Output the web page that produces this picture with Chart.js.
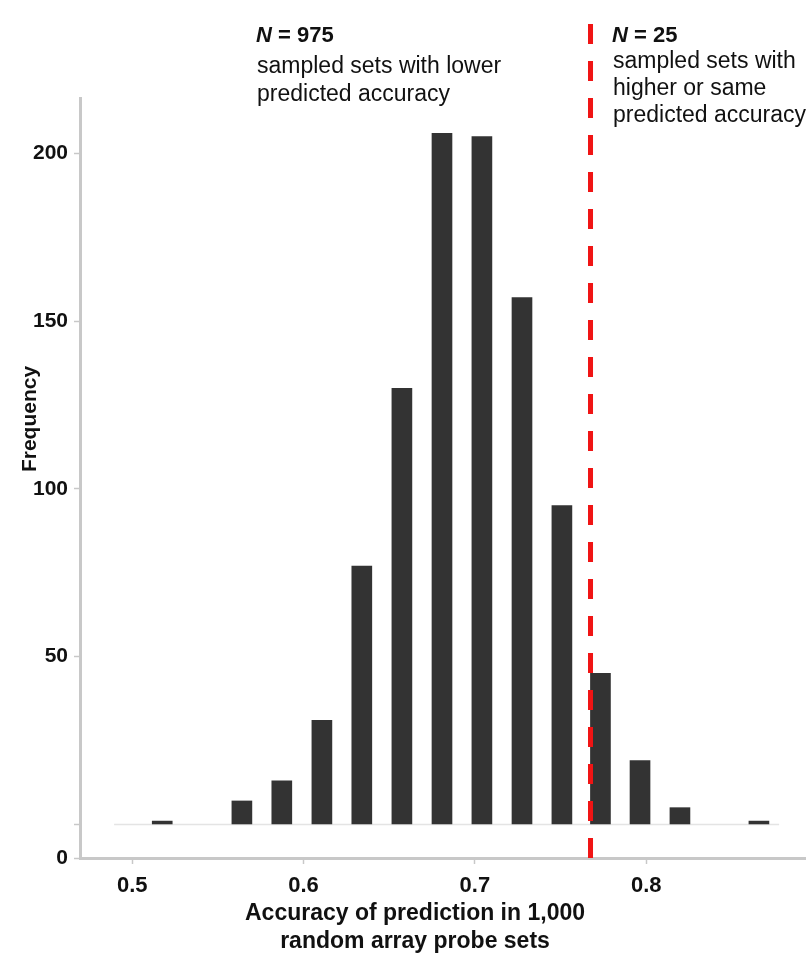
<!DOCTYPE html>
<html lang="en">
<head>
    <meta charset="UTF-8">
    <title>Accuracy histogram</title>
    <script src="https://cdn.jsdelivr.net/npm/chart.js"></script>
    <style>
        body {
            margin: 0;
            background: #fff;
        }
        #wrap {
            width: 809px;
            height: 954px;
        }
    </style>
</head>
<body>
    <div id="wrap">
        <canvas id="histChart" width="809" height="954"></canvas>
    </div>
    <script>
        // bin centres (accuracy) and frequencies
        const bins = [0.5175, 0.564, 0.5873, 0.6107, 0.634, 0.6574, 0.6808, 0.7041, 0.7275, 0.7508, 0.7733, 0.7964, 0.8197, 0.8658];
        const counts = [1, 7, 13, 31, 77, 130, 206, 205, 157, 95, 45, 19, 5, 1];

        // observed accuracy (red dashed cut-off)
        const cutoff = 0.7675;
        const cutoffSpan = [-10, 243];

        // thin baseline under the bars
        const baseX = [0.4894, 0.8776];

        const xTicks = [0.5, 0.6, 0.7, 0.8];
        const yTicks = [-10, 0, 50, 100, 150, 200];
        const yTickLabels = ['0', '', '50', '100', '150', '200'];

        const FONT = "'Liberation Sans', Arial, sans-serif";
        const AXIS_GRAY = '#c8c8c8';

        // axis titles and the two N = ... notes
        const textPlugin = {
            id: 'notes',
            afterDraw(chart) {
                const ctx = chart.ctx;
                ctx.save();
                ctx.fillStyle = '#111';
                ctx.textBaseline = 'middle';
                ctx.textAlign = 'left';

                function nLine(x, y, rest) {
                    ctx.font = 'italic bold 22px ' + FONT;
                    ctx.fillText('N', x, y);
                    const w = ctx.measureText('N').width;
                    ctx.font = 'bold 22px ' + FONT;
                    ctx.fillText(rest, x + w, y);
                }

                nLine(256, 36, ' = 975');
                ctx.font = '23px ' + FONT;
                ctx.fillText('sampled sets with lower', 257, 67);
                ctx.fillText('predicted accuracy', 257, 95);

                nLine(612, 36, ' = 25');
                ctx.font = '23px ' + FONT;
                ctx.fillText('sampled sets with', 613, 62);
                ctx.fillText('higher or same', 613, 89);
                ctx.fillText('predicted accuracy', 613, 116);

                // x axis title
                ctx.textAlign = 'center';
                ctx.font = 'bold 23px ' + FONT;
                ctx.fillText('Accuracy of prediction in 1,000', 415, 914);
                ctx.fillText('random array probe sets', 415, 942);

                // y axis title
                ctx.translate(30, 419);
                ctx.rotate(-Math.PI / 2);
                ctx.font = 'bold 21px ' + FONT;
                ctx.fillText('Frequency', 0, 0);
                ctx.restore();
            }
        };

        const ctx = document.getElementById('histChart').getContext('2d');
        new Chart(ctx, {
            type: 'bar',
            data: {
                datasets: [
                    {
                        type: 'line',
                        data: baseX.map(x => ({ x: x, y: 0 })),
                        borderColor: '#e4e4e4',
                        borderWidth: 1.5,
                        pointRadius: 0,
                        order: 3
                    },
                    {
                        type: 'bar',
                        data: bins.map((b, i) => ({ x: b, y: counts[i] })),
                        backgroundColor: '#333333',
                        barThickness: 20,
                        order: 2
                    },
                    {
                        type: 'line',
                        data: cutoffSpan.map(y => ({ x: cutoff, y: y })),
                        borderColor: '#f01414',
                        borderWidth: 5,
                        borderDash: [20, 17],
                        borderCapStyle: 'butt',
                        pointRadius: 0,
                        clip: false,
                        order: 1
                    }
                ]
            },
            options: {
                responsive: false,
                animation: false,
                devicePixelRatio: 1,
                layout: {
                    padding: { top: 98, right: 4, left: 0, bottom: 0 }
                },
                plugins: {
                    legend: { display: false },
                    tooltip: { enabled: false }
                },
                scales: {
                    x: {
                        type: 'linear',
                        min: 0.4695,
                        max: 0.8927,
                        offset: false,
                        afterFit(scale) { scale.height = 96; },
                        afterBuildTicks(scale) {
                            scale.ticks = xTicks.map(v => ({ value: v }));
                        },
                        grid: {
                            offset: false,
                            drawOnChartArea: false,
                            tickLength: 6,
                            tickColor: AXIS_GRAY,
                            tickWidth: 1.5
                        },
                        border: { color: AXIS_GRAY, width: 3 },
                        ticks: {
                            padding: 9,
                            color: '#111',
                            font: { family: FONT, size: 22, weight: 'bold' },
                            callback: v => v.toFixed(1)
                        }
                    },
                    y: {
                        min: -10,
                        max: 216.5,
                        afterFit(scale) { scale.width = 80; },
                        afterBuildTicks(scale) {
                            scale.ticks = yTicks.map(v => ({ value: v }));
                        },
                        grid: {
                            drawOnChartArea: false,
                            tickLength: 6,
                            tickColor: AXIS_GRAY,
                            tickWidth: 1.5
                        },
                        border: { color: AXIS_GRAY, width: 3 },
                        ticks: {
                            padding: 6,
                            color: '#111',
                            font: { family: FONT, size: 21, weight: 'bold' },
                            callback: (v, i) => yTickLabels[i]
                        }
                    }
                }
            },
            plugins: [textPlugin]
        });
    </script>
</body>
</html>
